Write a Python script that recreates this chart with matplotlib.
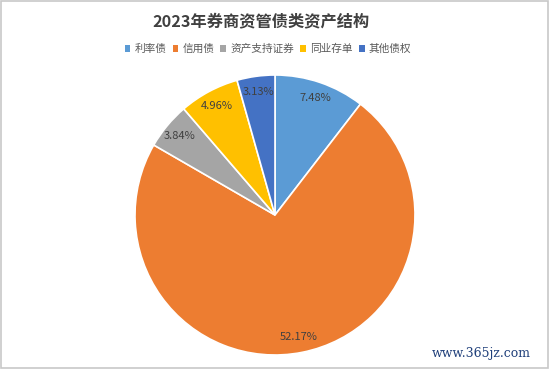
import matplotlib
matplotlib.use("Agg")
import matplotlib.pyplot as plt
from matplotlib.patches import Rectangle
import numpy as np

plt.rcParams['font.family'] = ['Noto Sans CJK SC', 'DejaVu Sans']

categories = ["利率债", "信用债", "资产支持证券", "同业存单", "其他债权"]
values = [7.48, 52.17, 3.84, 4.96, 3.13]
colors = ["#5B9BD5", "#ED7D31", "#A5A5A5", "#FFC000", "#4472C4"]
title = "2023年券商资管债类资产结构"

fig = plt.figure(figsize=(5.5, 3.69), dpi=100)
fig.patch.set_facecolor("white")
fig.add_artist(Rectangle((0.002, 0.003), 0.995, 0.994, transform=fig.transFigure,
                         fill=False, edgecolor="#C8C8C8", linewidth=1.2))

# pie center (275,215) px, radius 140 px
ax = fig.add_axes([(275 - 140) / 550, (369 - 215 - 140) / 369, 280 / 550, 280 / 369])
wedges, texts = ax.pie(values, colors=colors, startangle=90, counterclock=False,
                       wedgeprops=dict(edgecolor="white", linewidth=1.2))
for w, v in zip(wedges, values):
    ang = np.deg2rad((w.theta1 + w.theta2) / 2)
    ax.text(0.885 * np.cos(ang), 0.885 * np.sin(ang), f"{v:.2f}%",
            ha="center", va="center", fontsize=8, color="#404040")
ax.set_aspect("equal")
ax.set_xlim(-1, 1)
ax.set_ylim(-1, 1)

fig.text(261 / 550, 1 - 21 / 369, title, ha="center", va="center", fontsize=11.7,
         fontweight="bold", color="#404040")

handles = [Rectangle((0, 0), 1, 1, facecolor=c) for c in colors]
leg = fig.legend(handles, categories, loc="center", bbox_to_anchor=(268 / 550, 1 - 49 / 369),
                 ncol=5, frameon=False, fontsize=7.7, handlelength=0.55, handleheight=0.55,
                 handletextpad=0.4, columnspacing=0.55, labelcolor="#595959")

fig.text(0.965, 1 - 353 / 369, "www.365jz.com", ha="right", va="center",
         fontsize=9, color="#1F3F7A", family="DejaVu Serif")

fig.savefig("out.png", dpi=100, facecolor="white")
